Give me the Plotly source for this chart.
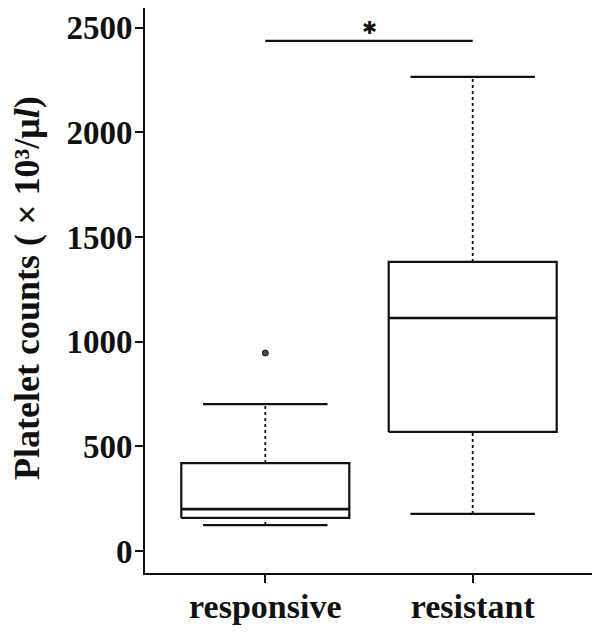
import plotly.graph_objects as go

categories = ["responsive", "resistant"]
q1 = [158, 569]
median = [200, 1113]
q3 = [420, 1381]
lower_whisker = [124, 177]
upper_whisker = [702, 2265]
outlier_cat = ["responsive"]
outlier_val = [946]
sig_pair = ["responsive", "resistant"]
sig_y = 2437
sig_text = "✱"
y_ticks = [0, 500, 1000, 1500, 2000, 2500]
y_title = "<b>Platelet counts ( × 10³/μ<i>l</i>)</b>"

pos = {c: i for i, c in enumerate(categories)}
half_box = 0.405
half_cap = 0.3

fig = go.Figure()
black = "#111111"

for i, c in enumerate(categories):
    x0 = pos[c] - half_box
    x1 = pos[c] + half_box
    fig.add_trace(go.Scatter(x=[x0, x1, x1, x0, x0], y=[q1[i], q1[i], q3[i], q3[i], q1[i]],
                             mode="lines", line=dict(color=black, width=2.2), hoverinfo="skip"))
    fig.add_trace(go.Scatter(x=[x0, x1], y=[median[i], median[i]], mode="lines",
                             line=dict(color=black, width=2.6), hoverinfo="skip"))
    fig.add_trace(go.Scatter(x=[pos[c], pos[c]], y=[q3[i], upper_whisker[i]], mode="lines",
                             line=dict(color=black, width=1.8, dash="dot"), hoverinfo="skip"))
    fig.add_trace(go.Scatter(x=[pos[c], pos[c]], y=[lower_whisker[i], q1[i]], mode="lines",
                             line=dict(color=black, width=1.8, dash="dot"), hoverinfo="skip"))
    for w in (upper_whisker[i], lower_whisker[i]):
        fig.add_trace(go.Scatter(x=[pos[c] - half_cap, pos[c] + half_cap], y=[w, w], mode="lines",
                                 line=dict(color=black, width=2.2), hoverinfo="skip"))

fig.add_trace(go.Scatter(x=[pos[c] for c in outlier_cat], y=outlier_val, mode="markers",
                         marker=dict(color="#444444", size=6, line=dict(color=black, width=1)),
                         hoverinfo="skip"))

fig.add_trace(go.Scatter(x=[pos[sig_pair[0]], pos[sig_pair[1]]], y=[sig_y, sig_y], mode="lines",
                         line=dict(color=black, width=2.2), hoverinfo="skip"))
fig.add_annotation(x=(pos[sig_pair[0]] + pos[sig_pair[1]]) / 2, y=sig_y, text=sig_text,
                   showarrow=False, yanchor="bottom", yshift=1,
                   font=dict(family="DejaVu Sans", size=18, color=black))

# y-axis title placed as rotated annotation
fig.add_annotation(xref="paper", yref="paper", x=-0.265, y=0.505, text=y_title,
                   textangle=-90, showarrow=False, xanchor="center", yanchor="middle",
                   font=dict(family="Liberation Serif", size=36, color=black))

font_y = dict(family="Liberation Serif", size=33, color=black)
font_x = dict(family="Liberation Serif", size=34, color=black)
fig.update_layout(
    width=600, height=635,
    margin=dict(l=137, r=15, t=0, b=70),
    plot_bgcolor="white", paper_bgcolor="white",
    showlegend=False,
    xaxis=dict(range=[-0.58, 1.58], tickvals=[pos[c] for c in categories],
               ticktext=["<b>%s</b>" % c for c in categories],
               tickfont=font_x, showgrid=False, zeroline=False, automargin=False,
               showline=True, mirror=True, linecolor=black, linewidth=2,
               ticks="outside", ticklen=8, tickwidth=2, tickcolor=black,
               ticklabelstandoff=-6),
    yaxis=dict(range=[-105, 2594], tickvals=y_ticks,
               ticktext=["<b>%d</b>" % v for v in y_ticks],
               tickfont=font_y, showgrid=False, zeroline=False, automargin=False,
               showline=True, mirror=True, linecolor=black, linewidth=2,
               ticks="outside", ticklen=8, tickwidth=2, tickcolor=black,
               ticklabelstandoff=-4),
)

fig.write_html("out.html")
